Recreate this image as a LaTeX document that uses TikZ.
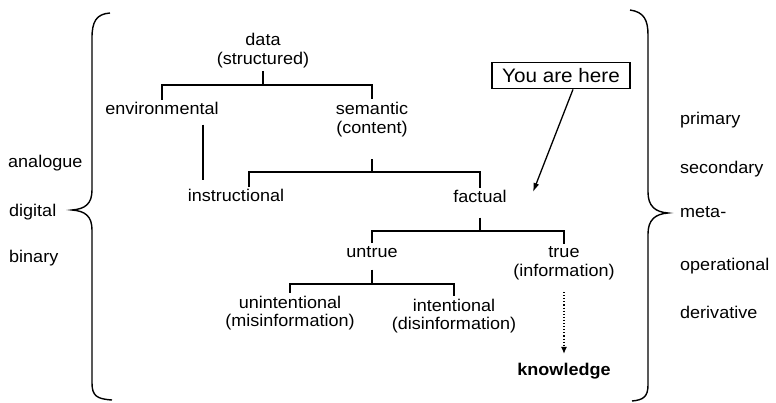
\documentclass[tikz,border=0pt]{standalone}
\usepackage{fontspec}
\setmainfont{Liberation Sans}[FakeStretch=1.06]
\usetikzlibrary{arrows.meta,calc}
\begin{document}
\begin{tikzpicture}[x=1pt,y=-1pt,
  lbl/.style={font=\fontsize{17}{18.5}\selectfont, align=center, inner sep=3pt},
  one/.style={lbl, text height=12pt, text depth=3.5pt},
  side/.style={font=\fontsize{17}{18.5}\selectfont, anchor=base west, inner sep=0pt},
  tree/.style={line width=2.2pt},
  brace/.style={line width=1.4pt},
  pointer/.style={line width=1.3pt, -{Latex[length=9pt,width=6pt]}},
  dotarrow/.style={dotted, line width=1.1pt, -{Latex[length=7pt,width=6pt]}}]
\useasboundingbox (0,0) rectangle (776,403);

% braces
\draw[brace] (110,13) .. controls (96,14) and (92,22) .. (92,38) -- (92,190)
  .. controls (92,204) and (85,209) .. (72,210)
  .. controls (85,211) and (92,216) .. (92,230) -- (92,383)
  .. controls (92,396) and (97,399) .. (112,400);
\draw[brace] (630,10) .. controls (644,12) and (648,20) .. (648,35) -- (648,192)
  .. controls (648,206) and (655,212) .. (668,213)
  .. controls (655,214) and (648,220) .. (648,234) -- (648,385)
  .. controls (648,397) and (643,400) .. (632,401);

% tree nodes
\node[lbl] (data) at (263,50.5) {data\\(structured)};
\node[one] (env) at (162,110.75) {environmental};
\node[lbl] (sem) at (372,119.7) {semantic\\(content)};
\node[one] (instr) at (236,197.75) {instructional};
\node[one] (fact) at (480,198.75) {factual};
\node[one] (untrue) at (372,253.75) {untrue};
\node[lbl] (true) at (564,263.3) {true\\(information)};
\node[lbl] (unint) at (290,313.3) {unintentional\\(misinformation)};
\node[lbl] (int) at (454,316) {intentional\\(disinformation)};
\node[one, font=\fontsize{17}{18.5}\selectfont\bfseries] (know) at (564,370.75) {knowledge};
\node[draw, line width=1.8pt, minimum width=138pt, minimum height=26pt, inner sep=0pt,
  font=\fontsize{19.5}{21}\selectfont] (you) at (561,75.5) {You are here};
\coordinate (here) at (533,192);

% connectors
\draw[tree] (data.south) -- ++(0,14) coordinate (b1);
\draw[tree] (env.north) |- (b1) -| (sem.north);
\draw[tree] ([xshift=41pt]env.south) ++(0,3) -- ++(0,55);
\draw[tree] (sem.south) ++(0,19) -- ++(0,13) coordinate (b2);
\draw[tree] ([xshift=13pt]instr.north) |- (b2) -| (fact.north);
\draw[tree] (fact.south) ++(0,8) -- ++(0,13) coordinate (b3);
\draw[tree] (untrue.north) |- (b3) -| (true.north);
\draw[tree] (untrue.south) ++(0,5) -- ++(0,14) coordinate (b4);
\draw[tree] (unint.north) |- (b4) -| (int.north);
\draw[dotarrow, shorten <=9pt, shorten >=6pt] (true) -- (know);
\draw[pointer] ([xshift=12pt]you.south) -- (here);

% side labels
\node[side] (ana) at (8,168) {analogue};
\node[side] (dig) at (9,217) {digital};
\node[side] (bin) at (9,263) {binary};
\node[side] (pri) at (680,125) {primary};
\node[side] (sec) at (680,174) {secondary};
\node[side] (meta) at (680,218) {meta-};
\node[side] (oper) at (680,270) {operational};
\node[side] (der) at (680,318) {derivative};
\end{tikzpicture}
\end{document}
